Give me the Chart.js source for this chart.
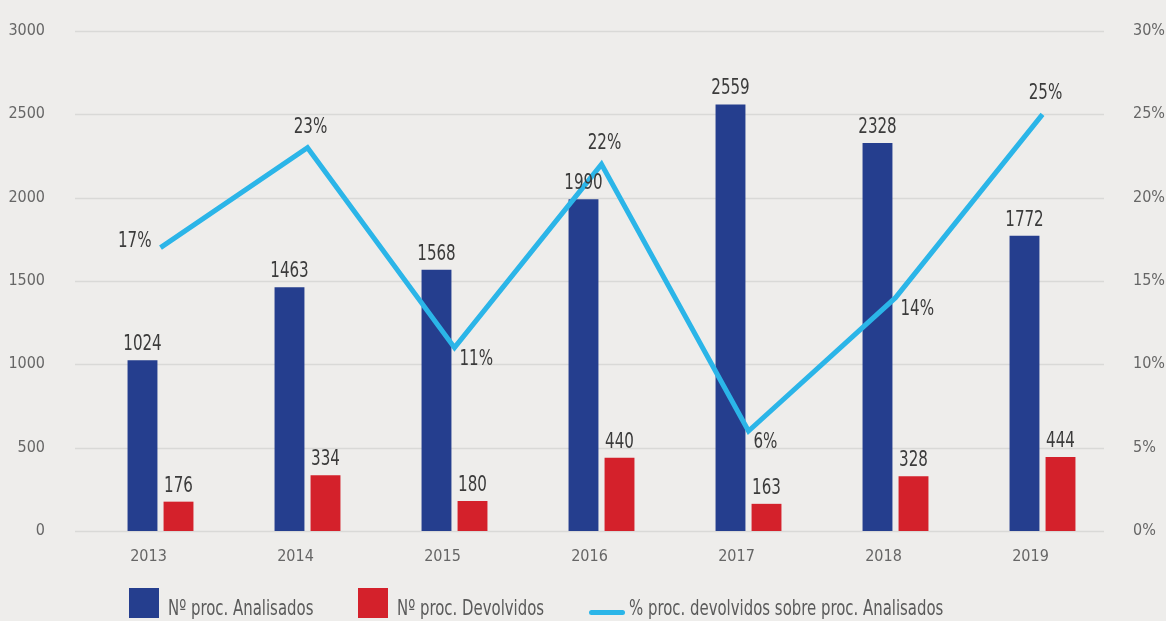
<!DOCTYPE html>
<html>
<head>
<meta charset="utf-8">
<script src="https://cdn.jsdelivr.net/npm/chart.js@4.4.1/dist/chart.umd.min.js"></script>
<style>
    html, body { margin: 0; padding: 0; background: #eeedeb; }
    #wrap { position: relative; width: 1166px; height: 621px; overflow: hidden; }
    #legend {
        position: absolute; left: 129px; top: 588px;
        display: flex; align-items: flex-start;
        font-family: 'DejaVu Sans Condensed', 'DejaVu Sans', sans-serif;
        font-size: 21px; color: #5a5a5a;
    }
    .item { display: flex; align-items: flex-start; margin-right: 45px; }
    .box { width: 30px; height: 30px; margin-right: 9px; flex: none; }
    .line { width: 36px; height: 5px; border-radius: 3px; margin: 22px 4px 0 0; flex: none; }
    .txt { line-height: 24px; padding-top: 8px; white-space: nowrap; }
    .txt .in { display: inline-block; transform: scaleX(0.79); transform-origin: left center; }
</style>
</head>
<body>
<div id="wrap">
    <canvas id="myChart" width="1166" height="621"></canvas>
    <div id="legend"></div>
</div>
<script>
// Daten
var anos = ["2013", "2014", "2015", "2016", "2017", "2018", "2019"];
var analisados = [1024, 1463, 1568, 1990, 2559, 2328, 1772];
var devolvidos = [176, 334, 180, 440, 163, 328, 444];
var percentagem = [17, 23, 11, 22, 6, 14, 25];

var FONT = "'DejaVu Sans Condensed', 'DejaVu Sans', sans-serif";
var AZUL = "#253e8e";
var VERMELHO = "#d4212b";
var CIANO = "#2bb5e8";
var SQUEEZE = 0.8;

// Gitterlinien etwas nach links versetzt (wie im Original)
var gridPlugin = {
    id: 'gridLines',
    beforeDatasetsDraw: function (chart) {
        var ctx = chart.ctx;
        var area = chart.chartArea;
        var y = chart.scales.y;
        ctx.save();
        ctx.strokeStyle = '#d9d9d7';
        ctx.lineWidth = 1.5;
        y.ticks.forEach(function (t) {
            var py = Math.round(y.getPixelForValue(t.value)) + 0.5;
            ctx.beginPath();
            ctx.moveTo(area.left - 12, py);
            ctx.lineTo(area.right - 12, py);
            ctx.stroke();
        });
        ctx.restore();
    }
};

// schmal gezeichneter Text
function narrowText(ctx, txt, x, y, align) {
    var w = ctx.measureText(txt).width * SQUEEZE;
    var left = align === 'center' ? x - w / 2 : (align === 'right' ? x - w : x);
    ctx.save();
    ctx.translate(left, y);
    ctx.scale(SQUEEZE, 1);
    ctx.textAlign = 'left';
    ctx.fillText(txt, 0, 0);
    ctx.restore();
}

// Werte über Balken und Linie
var labelPlugin = {
    id: 'valueLabels',
    afterDatasetsDraw: function (chart) {
        var ctx = chart.ctx;
        ctx.save();
        ctx.font = '21px ' + FONT;
        ctx.fillStyle = '#3b3b3b';
        [0, 1].forEach(function (di) {
            chart.getDatasetMeta(di).data.forEach(function (bar, i) {
                ctx.textBaseline = 'bottom';
                narrowText(ctx, String(chart.data.datasets[di].data[i]), bar.x, bar.y - 5, 'center');
            });
        });
        var vals = chart.data.datasets[2].data;
        chart.getDatasetMeta(2).data.forEach(function (pt, i) {
            var txt = vals[i] + '%';
            var prev = i > 0 ? vals[i - 1] : null;
            var next = i < vals.length - 1 ? vals[i + 1] : null;
            if (i === 0) {
                ctx.textBaseline = 'middle';
                narrowText(ctx, txt, pt.x - 9, pt.y - 6, 'right');
            } else if (vals[i] > prev && (next === null || vals[i] > next)) {
                ctx.textBaseline = 'bottom';
                narrowText(ctx, txt, pt.x + 3, pt.y - 10, 'center');
            } else {
                ctx.textBaseline = 'top';
                narrowText(ctx, txt, pt.x + 5, pt.y + 1, 'left');
            }
        });
        ctx.restore();
    }
};

var chart = new Chart("myChart", {
    type: "bar",
    data: {
        labels: anos,
        datasets: [{
            label: "Nº proc. Analisados",
            data: analisados,
            backgroundColor: AZUL,
            yAxisID: 'y',
            order: 1,
            barPercentage: 0.83,
            categoryPercentage: 0.49
        }, {
            label: "Nº proc. Devolvidos",
            data: devolvidos,
            backgroundColor: VERMELHO,
            yAxisID: 'y',
            order: 1,
            barPercentage: 0.83,
            categoryPercentage: 0.49
        }, {
            type: "line",
            label: "% proc. devolvidos sobre proc. Analisados",
            data: percentagem,
            borderColor: CIANO,
            backgroundColor: CIANO,
            borderWidth: 5,
            pointRadius: 0,
            tension: 0,
            yAxisID: 'y1',
            order: 0
        }]
    },
    options: {
        responsive: false,
        animation: false,
        layout: { padding: { top: 31, left: 0, right: 0, bottom: 0 } },
        plugins: {
            legend: { display: false },
            tooltip: { enabled: false }
        },
        scales: {
            x: {
                grid: { display: false, drawTicks: false },
                border: { display: false },
                ticks: { color: '#666', font: { family: FONT, size: 16 }, padding: 16, labelOffset: -12 },
                afterFit: function (s) { s.height = 90; }
            },
            y: {
                position: 'left',
                min: 0, max: 3000,
                grid: { display: false, drawTicks: false },
                border: { display: false },
                ticks: {
                    stepSize: 500, color: '#666', font: { family: FONT, size: 16 }, padding: 42,
                    callback: function (v) { return String(v); }
                },
                afterFit: function (s) { s.width = 87; s.paddingTop = 10; s.paddingBottom = 10; }
            },
            y1: {
                position: 'right',
                min: 0, max: 30,
                grid: { display: false, drawTicks: false },
                border: { display: false },
                ticks: {
                    stepSize: 5, color: '#666', font: { family: FONT, size: 16 }, padding: 17,
                    callback: function (v) { return v + '%'; }
                },
                afterFit: function (s) { s.width = 50; s.paddingTop = 10; s.paddingBottom = 10; }
            }
        }
    },
    plugins: [gridPlugin, labelPlugin]
});

// Legende als HTML
var legendHtml = '';
chart.data.datasets.forEach(function (ds) {
    var mark = ds.type === 'line'
        ? '<span class="line" style="background:' + ds.borderColor + '"></span>'
        : '<span class="box" style="background:' + ds.backgroundColor + '"></span>';
    legendHtml += '<div class="item">' + mark + '<span class="txt"><span class="in">' + ds.label + '</span></span></div>';
});
document.getElementById('legend').innerHTML = legendHtml;
document.querySelectorAll('#legend .txt').forEach(function (el) {
    var inner = el.querySelector('.in');
    el.style.width = (inner.offsetWidth * 0.79) + 'px';
});
</script>
</body>
</html>
